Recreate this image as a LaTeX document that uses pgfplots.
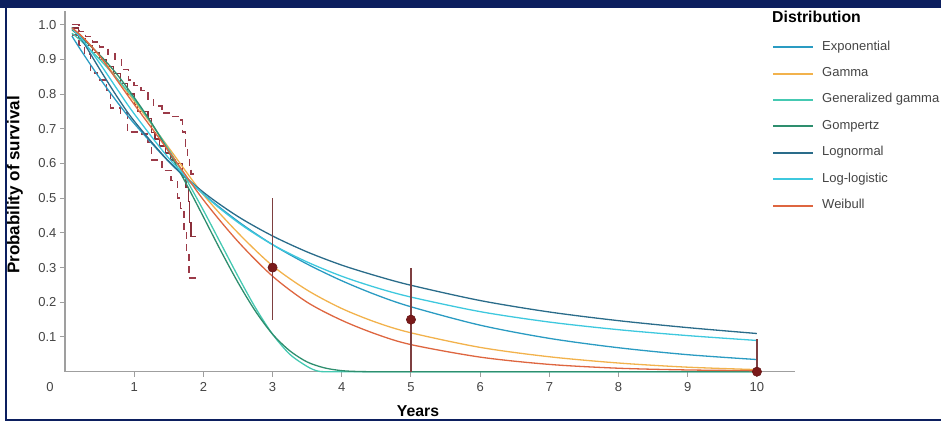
\documentclass[border=0pt]{standalone}
\usepackage{pgfplots}
\pgfplotsset{compat=1.18}
\usepackage{fontspec}
\setmainfont{Liberation Sans}
\definecolor{navy}{HTML}{0C1F5F}
\definecolor{expC}{HTML}{2A9BC2}
\definecolor{gamC}{HTML}{F2B24C}
\definecolor{ggC}{HTML}{45C9B2}
\definecolor{gomC}{HTML}{2E8E6E}
\definecolor{lnC}{HTML}{2A6C8A}
\definecolor{llC}{HTML}{3EC8DE}
\definecolor{weiC}{HTML}{DE6640}
\definecolor{kmC}{HTML}{8B2F3A}
\definecolor{ciC}{HTML}{9B3A48}
\definecolor{dotC}{HTML}{7A1A1A}
\definecolor{errC}{HTML}{7E3F40}
\definecolor{tickC}{HTML}{444444}
\begin{document}
\begin{tikzpicture}
\useasboundingbox (0pt,0pt) rectangle (941pt,422pt);
\begin{axis}[
  at={(65pt,50.3pt)}, anchor=south west, scale only axis,
  width=730pt, height=361pt,
  xmin=0, xmax=10.55, ymin=0, ymax=1.04,
  clip=false,
  axis x line*=bottom, axis y line*=left,
  axis line style={draw=gray!75, line width=1.2pt},
  tick align=outside, major tick length=5pt,
  tick style={draw=gray!75, line width=1pt},
  xtick={1,2,3,4,5,6,7,8,9,10},
  ytick={0.1,0.2,0.3,0.4,0.5,0.6,0.7,0.8,0.9,1.0},
  yticklabel style={/pgf/number format/.cd, fixed, fixed zerofill, precision=1},
  xticklabel style={yshift=-2pt},
  /pgf/number format/assume math mode=true,
  tick label style={font=\fontsize{13}{15}\selectfont, text=tickC},
  every axis x label/.style={at={(axis description cs:0.4836,-0.1089)}, anchor=center},
  every axis y label/.style={at={(axis description cs:-0.0685,0.517)}, anchor=center, rotate=90},
  xlabel={\fontsize{15.8}{18}\selectfont\bfseries Years},
  ylabel={\fontsize{17}{19}\selectfont\bfseries Probability of survival},
  legend cell align=left,
  legend image code/.code={\draw[#1, line width=2pt] (0pt,0pt) -- (40pt,0pt);},
  legend style={at={(axis description cs:0.9685,0.9133)}, anchor=north west,
    draw=none, fill=none, inner sep=0pt, row sep=16.4pt,
    font=\fontsize{13}{15}\selectfont, text=tickC,
    nodes={inner sep=0pt, text height=8pt, text depth=2pt},
    /tikz/every odd column/.append style={column sep=8pt}},
]
% Kaplan-Meier and confidence limits
\addplot[forget plot, const plot, kmC, line width=1.3pt] coordinates {
(0.1,0.99) (0.2,0.96) (0.3,0.94) (0.4,0.92) (0.5,0.90) (0.6,0.88) (0.7,0.86) (0.8,0.83) (0.9,0.80) (1.0,0.77) (1.05,0.75) (1.2,0.73) (1.25,0.69) (1.3,0.67) (1.37,0.65) (1.45,0.63) (1.52,0.61) (1.6,0.60) (1.7,0.56) (1.75,0.53) (1.78,0.49) (1.8,0.43) (1.82,0.39) (1.9,0.39)};
\addplot[forget plot, const plot, ciC, line width=1.4pt, dash pattern=on 7pt off 5pt] coordinates {
(0.1,1.0) (0.2,0.98) (0.3,0.965) (0.4,0.95) (0.5,0.935) (0.62,0.915) (0.72,0.90) (0.82,0.87) (0.92,0.84) (1.0,0.825) (1.1,0.81) (1.2,0.785) (1.28,0.765) (1.4,0.745) (1.55,0.735) (1.65,0.725) (1.7,0.69) (1.74,0.65) (1.77,0.62) (1.8,0.59) (1.82,0.57) (1.89,0.57)};
\addplot[forget plot, const plot, ciC, line width=1.4pt, dash pattern=on 7pt off 5pt] coordinates {
(0.1,0.97) (0.2,0.94) (0.28,0.915) (0.37,0.86) (0.47,0.84) (0.6,0.81) (0.66,0.76) (0.8,0.745) (0.9,0.69) (1.05,0.685) (1.2,0.66) (1.25,0.61) (1.4,0.58) (1.53,0.55) (1.63,0.50) (1.67,0.47) (1.72,0.41) (1.76,0.34) (1.79,0.27) (1.89,0.27)};
% Fitted distributions
\addplot[expC, line width=1.3pt, smooth] coordinates {
(0.1,0.967) (0.25,0.920) (0.5,0.846) (0.75,0.778) (1,0.715) (1.5,0.605) (2,0.512) (2.5,0.433) (3,0.366) (3.5,0.310) (4,0.262) (4.5,0.221) (5,0.187) (6,0.134) (7,0.096) (8,0.069) (9,0.049) (10,0.035)};
\addlegendentry{Exponential}
\addplot[gamC, line width=1.3pt, smooth] coordinates {
(0.1,0.99) (0.25,0.965) (0.5,0.91) (0.75,0.845) (1,0.78) (1.5,0.645) (2,0.51) (2.5,0.40) (3,0.305) (3.5,0.235) (4,0.182) (4.5,0.142) (5,0.112) (6,0.070) (7,0.043) (8,0.025) (9,0.013) (10,0.006)};
\addlegendentry{Gamma}
\addplot[ggC, line width=1.3pt, smooth] coordinates {
(0.1,0.975) (0.25,0.95) (0.5,0.90) (0.75,0.845) (1,0.785) (1.25,0.715) (1.5,0.64) (1.75,0.555) (2,0.465) (2.25,0.37) (2.5,0.275) (2.75,0.185) (3,0.108) (3.25,0.05) (3.5,0.015) (3.65,0.002) (3.8,0) (4.5,0) (10,0)};
\addlegendentry{Generalized gamma}
\addplot[gomC, line width=1.3pt, smooth] coordinates {
(0.1,0.985) (0.25,0.960) (0.5,0.913) (0.75,0.857) (1,0.79) (1.25,0.717) (1.5,0.633) (1.75,0.542) (2,0.446) (2.25,0.349) (2.5,0.257) (2.75,0.175) (3,0.108) (3.25,0.060) (3.5,0.028) (3.75,0.011) (4,0.003) (4.25,0.0005) (4.5,0) (5,0) (10,0)};
\addlegendentry{Gompertz}
\addplot[lnC, line width=1.3pt, smooth] coordinates {
(0.1,0.992) (0.25,0.954) (0.5,0.872) (0.75,0.793) (1,0.722) (1.5,0.606) (2,0.517) (2.5,0.447) (3,0.391) (3.5,0.345) (4,0.307) (4.5,0.276) (5,0.249) (6,0.205) (7,0.172) (8,0.147) (9,0.127) (10,0.110)};
\addlegendentry{Lognormal}
\addplot[llC, line width=1.3pt, smooth] coordinates {
(0.1,0.988) (0.25,0.957) (0.5,0.889) (0.75,0.815) (1,0.743) (1.5,0.615) (2,0.511) (2.5,0.430) (3,0.366) (3.5,0.316) (4,0.275) (4.5,0.242) (5,0.215) (6,0.173) (7,0.143) (8,0.121) (9,0.104) (10,0.090)};
\addlegendentry{Log-logistic}
\addplot[weiC, line width=1.3pt, smooth] coordinates {
(0.1,0.99) (0.25,0.965) (0.5,0.91) (0.75,0.84) (1,0.77) (1.5,0.635) (2,0.495) (2.5,0.375) (3,0.275) (3.5,0.200) (4,0.148) (4.5,0.108) (5,0.078) (6,0.042) (7,0.021) (8,0.010) (9,0.005) (10,0.003)};
\addlegendentry{Weibull}
% Observed points with intervals
\addplot[forget plot, only marks, mark=*, mark size=4.6pt,
  mark options={fill=dotC, draw=dotC!85!black, line width=0.6pt},
  error bars/.cd, y dir=both, y explicit,
  error bar style={draw=errC, line width=1.3pt}, error mark=none]
  coordinates {(3,0.30) += (0,0.20) -= (0,0.15) (5,0.15) += (0,0.15) -= (0,0.15) (10,0.0) += (0,0.095) -= (0,0)};
\node[font=\fontsize{13}{15}\selectfont, text=tickC] at (axis cs:0,0) [xshift=-15pt, yshift=-15.5pt] {0};
\end{axis}
\node[anchor=west, inner sep=0pt, font=\fontsize{15.8}{18}\selectfont\bfseries] at (772pt,405pt) {Distribution};
\fill[navy] (0pt,413.7pt) rectangle (941pt,422pt);
\draw[navy, line width=2pt] (6pt,414pt) -- (6pt,1.8pt) -- (941pt,1.8pt);
\end{tikzpicture}
\end{document}
